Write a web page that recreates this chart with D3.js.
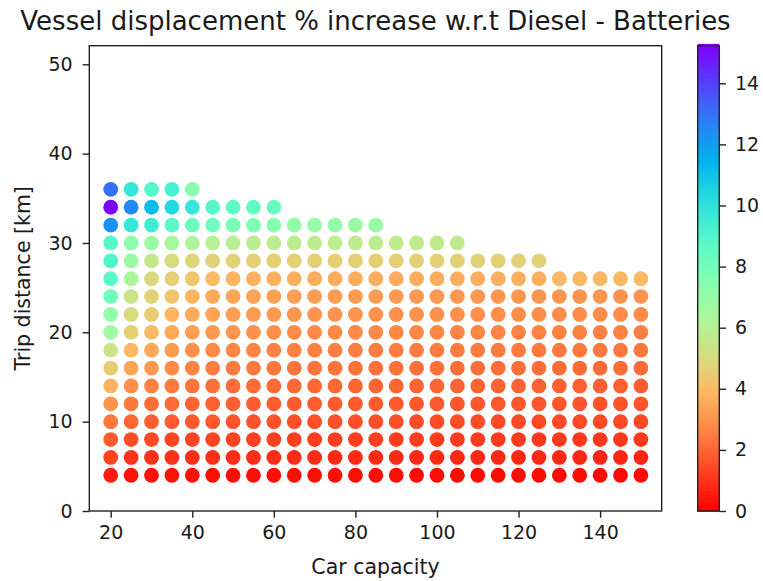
<!DOCTYPE html>
<html>
<head>
<meta charset="utf-8">
<script src="https://cdn.jsdelivr.net/npm/d3@7"></script>
<style>
  html, body { margin: 0; padding: 0; background: #fff; }
  svg { display: block; font-family: "DejaVu Sans", sans-serif; }
</style>
</head>
<body>
<svg id="chart" width="763" height="581"></svg>
<script>
// ---------------- DATA ----------------
const title = "Vessel displacement % increase w.r.t Diesel - Batteries";
const xLabel = "Car capacity";
const yLabel = "Trip distance [km]";
const carCapacity = [20,25,30,35,40,45,50,55,60,65,70,75,80,85,90,95,100,105,110,115,120,125,130,135,140,145,150];
const tripDistance = [4,6,8,10,12,14,16,18,20,22,24,26,28,30,32,34,36];
const xTicks = [20,40,60,80,100,120,140];
const yTicks = [0,10,20,30,40,50];
const cbTicks = [0,2,4,6,8,10,12,14];
const colorMax = 15.23;
const n = null;
// % increase, one row per trip distance, one entry per car capacity (null = no point)
const row4  = [0.5,0.35,0.3,0.3,0.3,0.28,0.27,0.26,0.25,0.25,0.24,0.24,0.23,0.23,0.22,0.22,0.22,0.21,0.21,0.21,0.2,0.2,0.2,0.2,0.2,0.2,0.2];
const row6  = [1.3,1.0,0.95,0.92,0.9,0.88,0.86,0.85,0.84,0.83,0.82,0.81,0.8,0.8,0.79,0.79,0.78,0.78,0.77,0.77,0.76,0.76,0.76,0.75,0.75,0.75,0.75];
const row8  = [1.8,1.5,1.4,1.35,1.32,1.3,1.27,1.25,1.23,1.21,1.2,1.19,1.18,1.17,1.16,1.15,1.14,1.13,1.12,1.12,1.11,1.1,1.1,1.09,1.08,1.08,1.07];
const row10 = [2.4,2.0,1.85,1.76,1.7,1.66,1.62,1.6,1.58,1.56,1.54,1.52,1.5,1.49,1.48,1.47,1.46,1.45,1.44,1.43,1.42,1.41,1.41,1.4,1.4,1.39,1.39];
const row12 = [3.0,2.4,2.2,2.06,1.97,1.92,1.88,1.85,1.82,1.8,1.78,1.76,1.75,1.74,1.72,1.71,1.7,1.69,1.68,1.67,1.66,1.65,1.64,1.63,1.62,1.61,1.6];
const row14 = [3.8,2.9,2.6,2.42,2.28,2.2,2.14,2.1,2.07,2.05,2.03,2.01,2.0,1.98,1.97,1.96,1.95,1.94,1.93,1.92,1.91,1.9,1.89,1.88,1.87,1.86,1.85];
const row16 = [4.5,3.4,3.1,2.82,2.64,2.52,2.44,2.4,2.36,2.33,2.3,2.28,2.26,2.24,2.22,2.21,2.2,2.19,2.18,2.17,2.16,2.15,2.14,2.13,2.12,2.11,2.1];
const row18 = [5.4,3.9,3.5,3.15,2.92,2.78,2.7,2.65,2.6,2.57,2.54,2.52,2.5,2.48,2.47,2.46,2.45,2.44,2.43,2.42,2.41,2.4,2.39,2.38,2.37,2.36,2.35];
const row20 = [6.6,4.6,4.0,3.55,3.28,3.1,3.0,2.94,2.88,2.84,2.8,2.78,2.76,2.74,2.72,2.7,2.69,2.68,2.66,2.64,2.62,2.6,2.59,2.58,2.57,2.56,2.55];
const row22 = [7.1,5.0,4.5,3.85,3.55,3.35,3.22,3.15,3.1,3.06,3.03,3.0,2.98,2.96,2.94,2.93,2.92,2.9,2.88,2.87,2.86,2.85,2.84,2.83,2.82,2.81,2.8];
const row24 = [8.1,5.4,4.7,4.3,3.85,3.55,3.42,3.35,3.3,3.26,3.22,3.2,3.18,3.16,3.14,3.12,3.1,3.09,3.08,3.07,3.06,3.05,3.04,3.03,3.02,3.01,3.0];
const row26 = [8.7,6.3,5.0,4.6,4.3,4.0,3.8,3.72,3.66,3.63,3.6,3.6,3.6,3.6,3.6,3.6,3.6,3.62,3.64,3.66,3.68,3.7,3.9,3.9,3.9,3.9,3.9];
const row28 = [9.0,6.8,5.5,5.0,4.8,4.7,4.65,4.6,4.6,4.6,4.6,4.6,4.6,4.6,4.6,4.6,4.62,4.64,4.7,4.7,4.7,4.7,n,n,n,n,n];
const row30 = [8.8,7.2,6.8,6.4,6.2,6.0,5.9,5.85,5.8,5.78,5.76,5.74,5.72,5.7,5.7,5.7,5.7,5.7,n,n,n,n,n,n,n,n,n];
const row32 = [12.3,9.8,9.5,8.7,8.2,8.1,7.8,7.7,7.3,7.0,6.9,6.9,6.8,6.8,n,n,n,n,n,n,n,n,n,n,n,n,n];
const row34 = [15.2,12.5,11.2,10.3,9.8,8.8,8.6,8.5,8.3,n,n,n,n,n,n,n,n,n,n,n,n,n,n,n,n,n,n];
const row36 = [13.0,9.8,8.9,9.3,7.3,n,n,n,n,n,n,n,n,n,n,n,n,n,n,n,n,n,n,n,n,n,n];
const values = [row4,row6,row8,row10,row12,row14,row16,row18,row20,row22,row24,row26,row28,row30,row32,row34,row36];

// ---------------- LAYOUT ----------------
const svg = d3.select("#chart");
const ax = { left: 89.3, right: 661.7, top: 45.7, bottom: 511 };
const cb = { left: 697.7, right: 719.3, top: 45.7, bottom: 511 };
const fs = 19;
const labelFs = 20.5;
const titleFs = 26;
const textColor = "#1a1a1a";

// matplotlib "rainbow" (gnuplot 33,13,10), reversed
function rainbow(t) {
  const r = Math.min(1, Math.max(0, Math.abs(2 * t - 0.5)));
  const g = Math.max(0, Math.sin(Math.PI * t));
  const b = Math.max(0, Math.cos(Math.PI * t / 2));
  return d3.rgb(r * 255, g * 255, b * 255).formatHex();
}
const color = d3.scaleSequential(t => rainbow(1 - t)).domain([0, colorMax]);

const x = d3.scaleLinear().domain([14.75, 155.1]).range([ax.left, ax.right]);
const y = d3.scaleLinear().domain([0, 52.08]).range([ax.bottom, ax.top]);

const points = [];
tripDistance.forEach((d, i) => {
  carCapacity.forEach((c, j) => {
    const v = values[i][j];
    if (v !== null) points.push({ c, d, v });
  });
});

// points
svg.append("g")
  .selectAll("circle")
  .data(points)
  .join("circle")
  .attr("cx", p => x(p.c))
  .attr("cy", p => y(p.d))
  .attr("r", 7.4)
  .attr("fill", p => color(p.v));

// axes frame
svg.append("rect")
  .attr("x", ax.left).attr("y", ax.top)
  .attr("width", ax.right - ax.left).attr("height", ax.bottom - ax.top)
  .attr("fill", "none").attr("stroke", "#222").attr("stroke-width", 1.4);

// x axis
const gx = svg.append("g")
  .attr("transform", `translate(0,${ax.bottom})`)
  .call(d3.axisBottom(x).tickValues(xTicks).tickSize(6.7).tickPadding(8).tickFormat(d3.format("d")));
gx.select(".domain").remove();
gx.selectAll("line").attr("stroke", "#222").attr("stroke-width", 1.4);
gx.selectAll("text").attr("font-size", fs).attr("fill", textColor).attr("font-family", "DejaVu Sans");

// y axis
const gy = svg.append("g")
  .attr("transform", `translate(${ax.left},0)`)
  .call(d3.axisLeft(y).tickValues(yTicks).tickSize(6.7).tickPadding(10).tickFormat(d3.format("d")));
gy.select(".domain").remove();
gy.selectAll("line").attr("stroke", "#222").attr("stroke-width", 1.4);
gy.selectAll("text").attr("font-size", fs).attr("fill", textColor).attr("font-family", "DejaVu Sans");

// title
svg.append("text")
  .attr("x", (ax.left + ax.right) / 2).attr("y", 30)
  .attr("text-anchor", "middle")
  .attr("font-size", titleFs).attr("fill", textColor)
  .text(title);

// x label
svg.append("text")
  .attr("x", (ax.left + ax.right) / 2).attr("y", 574)
  .attr("text-anchor", "middle")
  .attr("font-size", labelFs).attr("fill", textColor)
  .text(xLabel);

// y label
svg.append("text")
  .attr("transform", `translate(30,${(ax.top + ax.bottom) / 2}) rotate(-90)`)
  .attr("text-anchor", "middle")
  .attr("font-size", labelFs).attr("fill", textColor)
  .text(yLabel);

// colorbar
const cy = d3.scaleLinear().domain([0, colorMax]).range([cb.bottom, cb.top]);
const steps = d3.range(0, 256).map(i => i / 255 * colorMax);
const stepH = (cb.bottom - cb.top) / 255;
svg.append("g")
  .selectAll("rect")
  .data(steps)
  .join("rect")
  .attr("x", cb.left)
  .attr("y", v => cy(v) - stepH)
  .attr("width", cb.right - cb.left)
  .attr("height", stepH + 0.8)
  .attr("fill", v => color(v));
svg.append("rect")
  .attr("x", cb.left).attr("y", cb.top)
  .attr("width", cb.right - cb.left).attr("height", cb.bottom - cb.top)
  .attr("fill", "none").attr("stroke", "#222").attr("stroke-width", 1.4);

const gc = svg.append("g")
  .attr("transform", `translate(${cb.right},0)`)
  .call(d3.axisRight(cy).tickValues(cbTicks).tickSize(6.7).tickPadding(9).tickFormat(d3.format("d")));
gc.select(".domain").remove();
gc.selectAll("line").attr("stroke", "#222").attr("stroke-width", 1.4);
gc.selectAll("text").attr("font-size", fs).attr("fill", textColor).attr("font-family", "DejaVu Sans");
</script>
</body>
</html>
